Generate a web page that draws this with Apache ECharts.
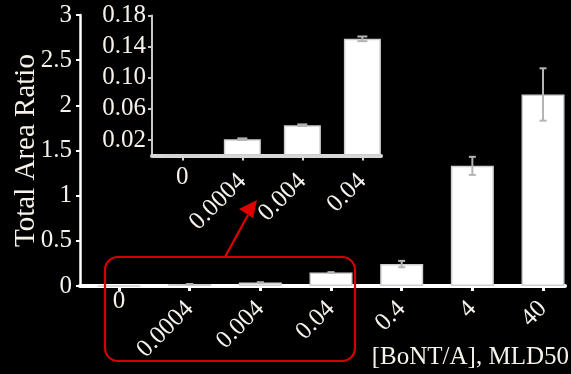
<!DOCTYPE html>
<html>
<head>
<meta charset="utf-8">
<script src="https://cdn.jsdelivr.net/npm/echarts@6/dist/echarts.min.js"></script>
<style>
  html, body { margin: 0; padding: 0; background: #000; }
  #chart { width: 571px; height: 374px; }
</style>
</head>
<body>
<div id="chart"></div>
<script>
// Doses of BoNT/A (MLD50) and the measured total area ratio (mean ± error)
const doses = ['0', '0.0004', '0.004', '0.04', '0.4', '4', '40'];
const ratioMean = [0, 0.021, 0.039, 0.150, 0.243, 1.33, 2.12];
const ratioErr = [0, 0.001, 0.001, 0.003, 0.035, 0.10, 0.29];

// Zoomed view of the four lowest doses
const insetDoses = ['0', '0.0004', '0.004', '0.04'];
const insetMean = [0, 0.021, 0.039, 0.150];
const insetErr = [0, 0.001, 0.001, 0.003];

const mainYTicks = [0, 0.5, 1, 1.5, 2, 2.5, 3];
const insetYTicks = [0.02, 0.06, 0.10, 0.14, 0.18];

const FONT = 'Liberation Serif';
const TXT = '#f6f2ea';
const TICK_FS = 25;

const chart = echarts.init(document.getElementById('chart'), null, { renderer: 'canvas' });

function errorBarRenderer(capHalf) {
  return function (params, api) {
    const x = api.value(0), m = api.value(1), e = api.value(2);
    if (!e) return null;
    const hi = api.coord([x, m + e]);
    const lo = api.coord([x, m - e]);
    const st = { stroke: '#b4b4b4', lineWidth: 2 };
    return {
      type: 'group',
      children: [
        { type: 'line', shape: { x1: hi[0], y1: hi[1], x2: lo[0], y2: lo[1] }, style: st },
        { type: 'line', shape: { x1: hi[0] - capHalf, y1: hi[1], x2: hi[0] + capHalf, y2: hi[1] }, style: st },
        { type: 'line', shape: { x1: lo[0] - capHalf, y1: lo[1], x2: lo[0] + capHalf, y2: lo[1] }, style: st }
      ]
    };
  };
}

const idx = (arr) => arr.map((_, i) => i);
const nonZeroIdx = (arr) => idx(arr).filter((i) => i > 0);

// a label-only axis that prints the upright "0" under the first tick
function zeroLabelAxis(gridIndex, min, max, cats, margin) {
  return {
    gridIndex, type: 'value', min, max, position: 'bottom',
    splitLine: { show: false },
    axisLine: { show: false, onZero: false },
    axisTick: { show: false },
    axisLabel: {
      show: true, customValues: [0], rotate: 0, margin,
      formatter: (v) => cats[Math.round(v)],
      color: TXT, fontFamily: FONT, fontSize: TICK_FS
    }
  };
}

chart.setOption({
  backgroundColor: '#000',
  animation: false,
  grid: [
    { left: 80, top: 15, right: 6, bottom: 88, containLabel: false, outerBoundsMode: 'none' },
    { left: 152, top: 15.5, right: 190, bottom: 218.5, containLabel: false, outerBoundsMode: 'none' }
  ],
  xAxis: [
    {
      gridIndex: 0, type: 'value', min: -0.552, max: 6.311, position: 'bottom',
      splitLine: { show: false },
      axisLine: { show: true, onZero: false, lineStyle: { color: '#ffffff', width: 4 } },
      axisTick: { show: true, customValues: idx(doses), length: 5, lineStyle: { color: '#ffffff', width: 3 } },
      axisLabel: {
        show: true, customValues: nonZeroIdx(doses), rotate: 45, margin: 19,
        formatter: (v) => doses[Math.round(v)],
        color: TXT, fontFamily: FONT, fontSize: TICK_FS
      },
      name: '[BoNT/A], MLD50', nameLocation: 'end', nameGap: 4, nameMoveOverlap: false,
      nameTextStyle: { color: TXT, fontFamily: FONT, fontSize: TICK_FS, align: 'right', verticalAlign: 'top', padding: [59, 0, 0, 0] }
    },
    {
      gridIndex: 1, type: 'value', min: -0.505, max: 3.31, position: 'bottom',
      splitLine: { show: false },
      axisLine: { show: true, onZero: false, lineStyle: { color: '#d8d8d8', width: 4 } },
      axisTick: { show: true, customValues: idx(insetDoses), length: 5, lineStyle: { color: '#d8d8d8', width: 2 } },
      axisLabel: {
        show: true, customValues: nonZeroIdx(insetDoses), rotate: 45, margin: 22,
        formatter: (v) => insetDoses[Math.round(v)],
        color: TXT, fontFamily: FONT, fontSize: TICK_FS
      }
    },
    zeroLabelAxis(0, -0.552, 6.311, doses, 3),
    zeroLabelAxis(1, -0.505, 3.31, insetDoses, 9)
  ],
  yAxis: [
    {
      gridIndex: 0, type: 'value', min: 0, max: 3, interval: 0.5,
      splitLine: { show: false },
      axisLine: { show: true, onZero: false, lineStyle: { color: '#ffffff', width: 2.5 } },
      axisTick: { show: true, customValues: mainYTicks, length: 4, lineStyle: { color: '#ffffff', width: 2 } },
      axisLabel: { customValues: mainYTicks, margin: 8, color: TXT, fontFamily: FONT, fontSize: TICK_FS },
      name: 'Total Area Ratio', nameLocation: 'middle', nameGap: 39, nameMoveOverlap: false,
      nameTextStyle: { color: TXT, fontFamily: FONT, fontSize: 29 }
    },
    {
      gridIndex: 1, type: 'value', min: 0, max: 0.18,
      splitLine: { show: false },
      axisLine: { show: true, onZero: false, lineStyle: { color: '#c8c8c8', width: 2 } },
      axisTick: { show: true, customValues: insetYTicks, length: 4, lineStyle: { color: '#c8c8c8', width: 2 } },
      axisLabel: {
        customValues: insetYTicks, margin: 6, color: TXT, fontFamily: FONT, fontSize: TICK_FS,
        formatter: (v) => v.toFixed(2)
      }
    }
  ],
  series: [
    {
      type: 'bar', xAxisIndex: 0, yAxisIndex: 0, barWidth: 43,
      data: ratioMean.map((v, i) => [i, v]),
      itemStyle: { color: '#ffffff', borderColor: '#cfcfcf', borderWidth: 1.5 },
      z: 2
    },
    {
      type: 'custom', xAxisIndex: 0, yAxisIndex: 0,
      data: ratioMean.map((v, i) => [i, v, ratioErr[i]]),
      renderItem: errorBarRenderer(3.5), z: 5
    },
    {
      type: 'bar', xAxisIndex: 1, yAxisIndex: 1, barWidth: 37,
      data: insetMean.map((v, i) => [i, v]),
      itemStyle: { color: '#ffffff', borderColor: '#cfcfcf', borderWidth: 1.5 },
      z: 2
    },
    {
      type: 'custom', xAxisIndex: 1, yAxisIndex: 1,
      data: insetMean.map((v, i) => [i, v, insetErr[i]]),
      renderItem: errorBarRenderer(5), z: 5
    }
  ],
  graphic: [
    // red outline around the low-dose group
    {
      type: 'rect', z: 100,
      shape: { x: 105, y: 257, width: 250, height: 104, r: 13 },
      style: { fill: 'none', stroke: '#d40000', lineWidth: 2.2 }
    },
    // arrow pointing up to the zoomed view
    {
      type: 'line', z: 100,
      shape: { x1: 225, y1: 257, x2: 248, y2: 215 },
      style: { stroke: '#e00000', lineWidth: 2.2 }
    },
    {
      type: 'polygon', z: 100,
      shape: { points: [[257, 200], [239, 209], [253, 218]] },
      style: { fill: '#e00000' }
    }
  ]
});
</script>
</body>
</html>
